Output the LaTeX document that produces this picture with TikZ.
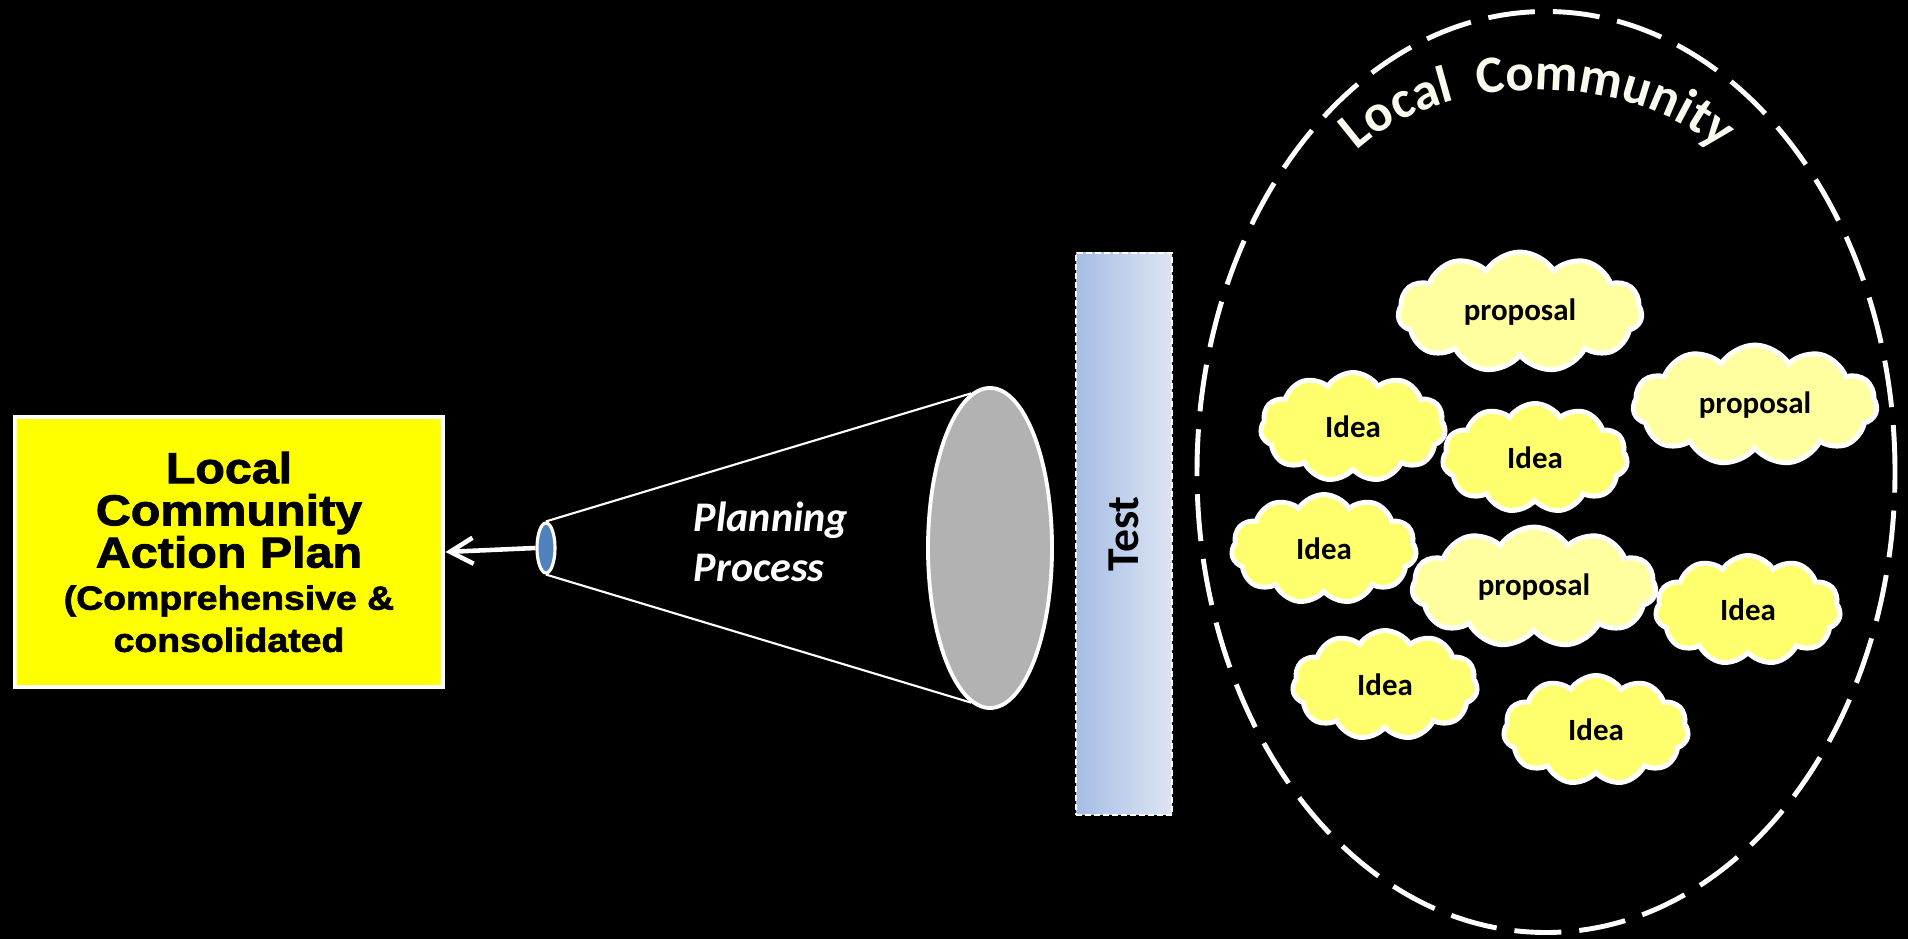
\documentclass[tikz,border=0pt]{standalone}
\usepackage{fontspec}
\setmainfont{Liberation Sans}
\newfontfamily\planfont{Liberation Sans}[FakeStretch=1.12, BoldFeatures={FakeBold=2}]
\newfontfamily\calfont{Carlito}
\usetikzlibrary{arrows.meta,calc,positioning,shapes.geometric,shapes.symbols,decorations.text}
\definecolor{PlanYellow}{RGB}{255,255,0}
\definecolor{ConeGray}{RGB}{178,178,178}
\definecolor{MouthBlue}{RGB}{79,129,189}
\definecolor{TestLeft}{RGB}{166,189,229}
\definecolor{TestRight}{RGB}{221,229,243}
\definecolor{IdeaYellow}{RGB}{255,255,110}
\definecolor{PropYellow}{RGB}{255,255,160}
\definecolor{RingWhite}{RGB}{250,250,238}

\begin{document}
\begin{tikzpicture}[
    planbox/.style={draw=white, line width=1.4pt, fill=PlanYellow, minimum width=4.28cm, minimum height=2.70cm, align=center, text=black},
    mouth/.style={ellipse, draw=white, line width=0.9pt, fill=MouthBlue, minimum width=0.18cm, minimum height=0.50cm, inner sep=0pt},
    funnel/.style={ellipse, draw=white, line width=1.1pt, fill=ConeGray, minimum width=1.24cm, minimum height=3.20cm, inner sep=0pt},
    coneline/.style={white, line width=0.6pt},
    testbar/.style={draw=white, line width=0.5pt, dash pattern=on 0.06cm off 0.03cm, left color=TestLeft, right color=TestRight, minimum width=0.96cm, minimum height=5.62cm, font=\calfont\bfseries\fontsize{13}{14}\selectfont},
    ring/.style={ellipse, draw=white, line width=1.4pt, dash pattern=on 0.47cm off 0.18cm, minimum width=6.98cm, minimum height=9.21cm, inner sep=0pt},
    cloudbox/.style={cloud, cloud puffs=11, cloud puff arc=115, cloud ignores aspect, draw=white, line width=1.4pt, inner sep=0pt, text=black, font=\calfont\bfseries\fontsize{8.8}{10}\selectfont},
    idea/.style={cloudbox, fill=IdeaYellow, minimum width=1.85cm, minimum height=1.09cm},
    proposal/.style={cloudbox, fill=PropYellow, minimum width=2.44cm, minimum height=1.20cm}]

    % background
    \fill[black] (0,0) rectangle (19.08,-9.39);
    \useasboundingbox (0,0) rectangle (19.08,-9.39);

    % Action plan box
    \node[planbox] (plan) at (2.29,-5.52) {\planfont\bfseries\fontsize{12.3}{14.2}\selectfont Local\\ \planfont\bfseries\fontsize{12.3}{14.2}\selectfont Community\\ \planfont\bfseries\fontsize{12.3}{14.2}\selectfont Action Plan\\ \planfont\bfseries\fontsize{9.5}{12.8}\selectfont (Comprehensive \&\\ \planfont\bfseries\fontsize{9.5}{12.8}\selectfont consolidated};

    % Funnel
    \node[mouth] (small) at (5.46,-5.48) {};
    \node[funnel] (big) at (9.90,-5.48) {};
    \draw[coneline] (small.north) -- (big.97);
    \draw[coneline] (small.south) -- (big.263);
    \draw[white, line width=1.3pt, -{Straight Barb[length=2.3mm,width=2.6mm]}] (small.west) -- (plan.east);
    \node[text=white, align=left, font=\calfont\bfseries\itshape\fontsize{12}{14.2}\selectfont] (planning) at (7.71,-5.42) {Planning\\Process};

    % Test bar
    \node[testbar] (test) at (11.24,-5.34) {\rotatebox{90}{Test}};

    % Community ring
    \node[ring] (community) at (15.46,-4.72) {};
    \coordinate (arch) at (15.38,-2.30);
    \path[decorate, decoration={text along path, text align=center, text color=RingWhite,
        text={|\calfont\bfseries\fontsize{15}{15}\selectfont|Local{ }{ }Community}}]
        ($(arch)+(180:2.2 and 1.40)$) arc[start angle=180, end angle=0, x radius=2.2, y radius=1.40];

    % Clouds
    \node[proposal] (p1) at (15.20,-3.12) {proposal};
    \node[idea] (i1) at (13.53,-4.27) {Idea};
    \node[idea] (i2) at (15.35,-4.58) {Idea};
    \node[proposal] (p2) at (17.55,-4.05) {proposal};
    \node[idea] (i3) at (13.24,-5.49) {Idea};
    \node[proposal] (p3) at (15.34,-5.87) {proposal};
    \node[idea] (i4) at (17.48,-6.10) {Idea};
    \node[idea] (i5) at (13.85,-6.85) {Idea};
    \node[idea] (i6) at (15.96,-7.30) {Idea};
\end{tikzpicture}
\end{document}
